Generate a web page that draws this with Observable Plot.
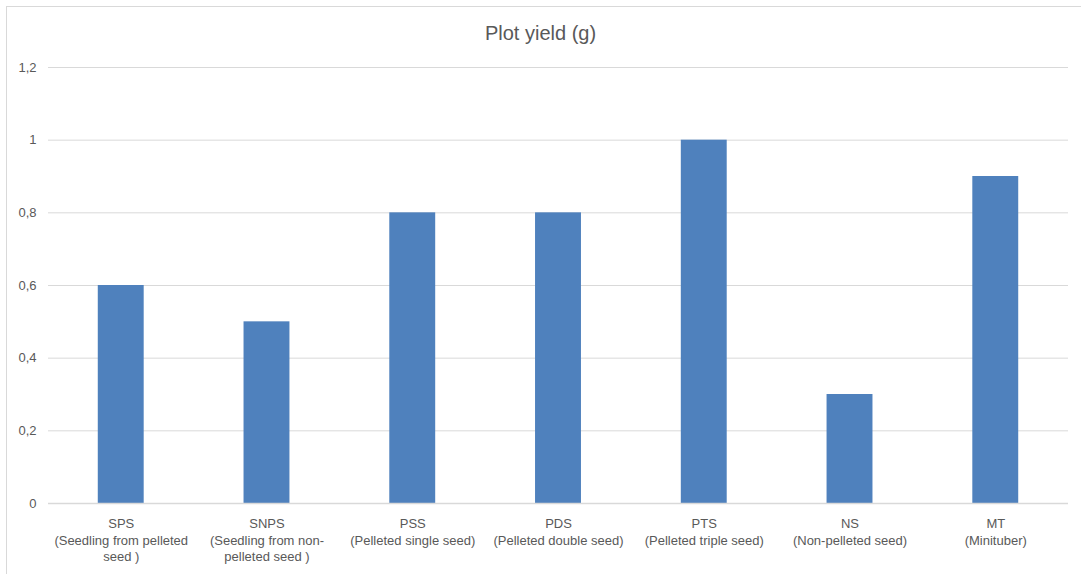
<!DOCTYPE html>
<html>
<head>
<meta charset="utf-8">
<script src="https://cdn.jsdelivr.net/npm/d3@7"></script>
<script src="https://cdn.jsdelivr.net/npm/@observablehq/plot@0.6"></script>
<style>
  html, body { margin: 0; padding: 0; background: #fff; overflow: hidden; }
  #wrap { position: relative; width: 1081px; height: 574px; font-family: "Liberation Sans", Arial, sans-serif; }
  #frame { position: absolute; left: 6px; top: 6px; width: 1100px; height: 600px; border: 1px solid #d9d9d9; box-sizing: border-box; pointer-events: none; }
  #title { height: 28px; padding-top: 22px; font-size: 20px; line-height: 22px; text-align: center; color: #595959; }
  svg { display: block; }
</style>
</head>
<body>
<div id="wrap">
  <div id="frame"></div>
  <div id="title">Plot yield (g)</div>
  <div id="chart"></div>
</div>
<script>
const codes = ["SPS", "SNPS", "PSS", "PDS", "PTS", "NS", "MT"];
const descriptions = [
  "(Seedling from pelleted\nseed )",
  "(Seedling from non-\npelleted seed )",
  "(Pelleted single seed)",
  "(Pelleted double seed)",
  "(Pelleted triple seed)",
  "(Non-pelleted seed)",
  "(Minituber)"
];
const yields = [0.6, 0.5, 0.8, 0.8, 1.0, 0.3, 0.9];
const yTicks = [0, 0.2, 0.4, 0.6, 0.8, 1.0, 1.2];

const data = codes.map((c, i) => ({code: c, desc: descriptions[i], value: yields[i]}));
const labelOf = Object.fromEntries(data.map(d => [d.code, d.code + "\n" + d.desc]));

const chart = Plot.plot({
  width: 1081,
  height: 524,
  marginTop: 17,
  marginBottom: 71,
  marginLeft: 48,
  marginRight: 13,
  style: { fontFamily: "Liberation Sans, Arial, sans-serif", fontSize: "13px", color: "#595959", background: "transparent" },
  x: { domain: codes, paddingInner: 0.685, paddingOuter: 0.3415, round: false },
  y: { domain: [0, 1.2] },
  marks: [
    Plot.gridY(yTicks, { stroke: "#d9d9d9", strokeOpacity: 1 }),
    Plot.barY(data, { x: "code", y: "value", fill: "#4f81bd" }),
    Plot.ruleY([0], { stroke: "#d9d9d9", strokeWidth: 1.5 }),
    Plot.axisY(yTicks, { tickSize: 0, tickPadding: 12, label: null, fill: "#595959",
      tickFormat: d => String(d).replace(".", ",") }),
    Plot.axisX({ tickSize: 0, tickPadding: 13, label: null, fill: "#595959", lineHeight: 1.27,
      tickFormat: d => labelOf[d] })
  ]
});
document.getElementById("chart").appendChild(chart);
</script>
</body>
</html>
